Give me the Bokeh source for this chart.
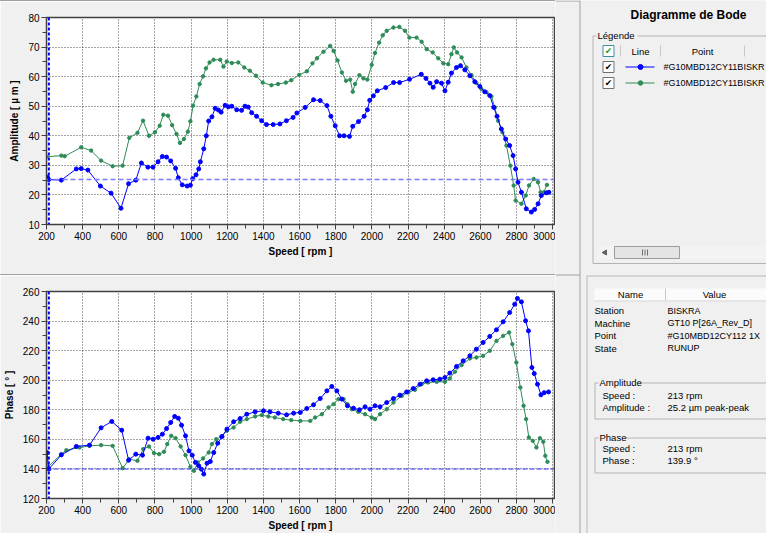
from bokeh.plotting import figure
from bokeh.layouts import row, column
from bokeh.models import Range1d, SingleIntervalTicker, Span, Div
from bokeh.embed import file_html
from bokeh.resources import INLINE
from bokeh.core.properties import value

# ---------------- data ----------------
amp_rpm_blue = [205, 213, 282, 365, 392, 429, 498, 557, 612, 654, 694, 725, 761, 789, 817, 841, 864, 887,
                914, 929, 951, 978, 996, 1009, 1027, 1042, 1051, 1070, 1084, 1097, 1115, 1133, 1151, 1166,
                1188, 1206, 1225, 1252, 1279, 1298, 1316, 1335, 1362, 1390, 1417, 1454, 1491, 1527, 1564,
                1585, 1631, 1677, 1714, 1751, 1773, 1797, 1821, 1846, 1876, 1894, 1926, 1957, 1975, 1988,
                2008, 2030, 2076, 2120, 2153, 2208, 2273, 2299, 2321, 2339, 2358, 2385, 2404, 2422, 2440,
                2468, 2490, 2514, 2542, 2569, 2597, 2624, 2652, 2674, 2692, 2716, 2740, 2762, 2781, 2795,
                2808, 2827, 2854, 2882, 2900, 2919, 2937, 2965, 2979]
amp_blue = [26.0, 25.2, 25.0, 28.8, 28.9, 28.4, 23.0, 20.6, 15.5, 23.8, 25.0, 30.8, 29.4, 29.4, 31.2, 33.0,
            32.8, 31.5, 29.0, 25.8, 23.4, 23.0, 23.3, 25.5, 26.8, 28.8, 31.2, 35.6, 40.0, 45.0, 46.4, 49.3,
            48.7, 48.0, 50.3, 49.8, 50.0, 48.8, 48.6, 50.0, 49.7, 47.8, 46.6, 45.1, 43.8, 43.8, 44.0, 45.1,
            46.2, 47.7, 49.6, 52.2, 51.9, 50.2, 46.6, 43.4, 40.0, 40.0, 39.8, 43.2, 44.8, 46.6, 48.8, 52.0,
            53.5, 55.2, 56.3, 58.0, 58.0, 59.1, 60.8, 59.4, 57.8, 56.4, 58.3, 57.8, 55.2, 58.1, 61.2, 63.1,
            63.7, 62.3, 60.3, 58.3, 56.7, 54.9, 53.6, 49.6, 46.6, 42.3, 38.9, 36.7, 33.3, 28.8, 24.3, 20.9,
            15.3, 14.2, 15.1, 17.0, 19.8, 20.7, 20.9]

amp_rpm_green = [200, 282, 301, 392, 447, 502, 566, 621, 658, 703, 734, 767, 800, 826, 846, 872, 895, 919,
                 938, 960, 982, 996, 1011, 1029, 1047, 1066, 1082, 1102, 1124, 1161, 1179, 1197, 1225, 1261,
                 1294, 1325, 1359, 1396, 1444, 1481, 1524, 1554, 1598, 1640, 1671, 1696, 1732, 1769, 1788,
                 1810, 1834, 1857, 1880, 1894, 1907, 1931, 1953, 1975, 1999, 2017, 2040, 2060, 2082, 2119,
                 2152, 2183, 2207, 2247, 2275, 2303, 2336, 2367, 2395, 2422, 2440, 2453, 2471, 2496, 2523,
                 2551, 2578, 2606, 2634, 2661, 2680, 2698, 2722, 2744, 2766, 2784, 2795, 2827, 2851, 2869,
                 2895, 2919, 2933, 2951, 2968]
amp_green = [32.9, 33.3, 33.1, 36.1, 35.0, 31.6, 29.7, 29.9, 39.3, 41.0, 45.1, 40.0, 41.2, 43.4, 47.1, 46.8,
             43.6, 40.6, 37.6, 38.9, 41.4, 44.9, 50.2, 53.3, 57.5, 60.1, 62.8, 64.8, 65.7, 65.7, 63.4, 65.1,
             64.6, 64.8, 63.1, 62.0, 60.3, 58.0, 57.1, 57.5, 58.0, 58.8, 60.6, 61.8, 64.5, 66.2, 68.4, 70.4,
             68.7, 65.5, 61.4, 58.6, 59.0, 54.9, 57.5, 60.5, 59.4, 59.0, 64.0, 68.0, 71.5, 74.0, 75.5, 76.6,
             76.8, 75.5, 73.2, 73.2, 71.8, 69.3, 68.2, 66.2, 64.5, 64.2, 67.6, 69.9, 68.2, 66.5, 63.1, 60.5,
             57.8, 55.8, 54.7, 53.3, 49.6, 45.1, 41.2, 36.7, 29.9, 23.2, 18.1, 17.0, 19.8, 23.2, 25.4, 24.3,
             20.9, 20.9, 23.4]

ph_rpm_blue = [203, 213, 282, 365, 438, 502, 561, 616, 654, 694, 731, 762, 790, 817, 841, 864, 887, 909,
               929, 947, 969, 988, 1006, 1024, 1042, 1057, 1070, 1088, 1106, 1125, 1147, 1171, 1198, 1235,
               1271, 1308, 1354, 1400, 1436, 1482, 1528, 1567, 1604, 1640, 1677, 1714, 1751, 1778, 1806,
               1834, 1865, 1898, 1931, 1962, 1990, 2017, 2045, 2082, 2119, 2155, 2192, 2229, 2266, 2303,
               2339, 2376, 2404, 2431, 2468, 2505, 2542, 2578, 2615, 2652, 2689, 2726, 2762, 2790, 2805,
               2827, 2850, 2866, 2885, 2898, 2916, 2935, 2953, 2977]
ph_blue = [151.0, 139.9, 149.5, 155.2, 156.1, 167.8, 172.1, 166.2, 145.9, 150.0, 149.3, 160.8, 160.1, 161.3,
           163.5, 167.3, 171.4, 175.5, 174.3, 169.6, 162.4, 152.2, 149.3, 144.4, 142.1, 139.8, 136.5, 143.9,
           145.0, 151.1, 157.4, 161.9, 166.9, 171.9, 174.1, 177.0, 178.6, 179.3, 178.6, 177.7, 176.6, 177.7,
           178.2, 180.9, 183.4, 187.6, 192.8, 195.8, 192.8, 187.2, 182.7, 181.1, 180.0, 182.0, 180.4, 182.7,
           182.0, 184.9, 187.6, 189.9, 192.1, 194.4, 197.3, 199.6, 200.3, 200.7, 201.8, 204.8, 209.3, 213.1,
           216.5, 221.0, 225.5, 229.6, 234.1, 239.5, 245.8, 251.4, 255.3, 253.0, 240.2, 233.4, 208.6, 204.5,
           197.3, 190.1, 191.6, 192.1]

ph_rpm_green = [200, 209, 282, 310, 383, 438, 502, 566, 621, 658, 703, 735, 767, 795, 823, 850, 868, 890,
                914, 942, 969, 996, 1015, 1037, 1066, 1097, 1115, 1139, 1167, 1198, 1235, 1271, 1308, 1354,
                1390, 1427, 1463, 1509, 1554, 1604, 1659, 1686, 1723, 1760, 1788, 1815, 1843, 1865, 1889,
                1925, 1962, 1999, 2017, 2045, 2082, 2119, 2165, 2201, 2238, 2275, 2311, 2358, 2404, 2431,
                2459, 2496, 2542, 2578, 2615, 2652, 2689, 2726, 2759, 2777, 2799, 2821, 2839, 2853, 2868,
                2890, 2910, 2929, 2948, 2959, 2971]
ph_green = [150.4, 141.4, 150.0, 152.7, 154.5, 155.6, 156.1, 155.6, 140.5, 146.6, 145.5, 153.4, 155.2, 150.7,
            150.0, 151.6, 156.8, 162.4, 160.8, 155.2, 149.3, 141.4, 138.7, 144.4, 147.1, 151.1, 156.8, 160.1,
            161.9, 165.8, 168.0, 171.9, 173.7, 175.5, 176.4, 175.5, 174.8, 173.7, 173.0, 172.5, 172.5, 174.8,
            177.0, 181.6, 183.8, 187.2, 187.2, 183.8, 180.4, 178.6, 177.0, 174.8, 173.7, 177.0, 180.4, 184.9,
            189.4, 191.7, 193.5, 197.3, 198.5, 198.9, 198.9, 201.2, 205.7, 210.2, 214.7, 215.4, 216.5, 219.9,
            226.6, 230.0, 232.3, 224.4, 212.0, 195.1, 182.7, 173.7, 161.3, 159.0, 154.5, 160.8, 158.4, 148.9,
            144.8]

cursor_rpm = 213
cursor_amp = 25.2
cursor_phase = 139.9

speed_ticks_interval = 200
x_limits = (200, 3010)
amp_limits = (10, 80)
phase_limits = (120, 260)

series_names = ["#G10MBD12CY11BISKR", "#G10MBD12CY11BISKR"]
info_names = ["Station", "Machine", "Point", "State"]
info_values = ["BISKRA", "GT10 P[26A_Rev_D]", "#G10MBD12CY112 1X", "RUNUP"]

# ---------------- style ----------------
BG = "#f0f0f0"
FONT = "Liberation Sans"
BLUE = "#0000ff"
GREEN = "#2e8b57"
EDGE = "#a0a0a0"
PANEL_FS = "9.5px"


def make_chart(h, b_top, b_bottom, ylim, yint, ylabel, hline, hcolor, hdash, hwidth,
               xb, yb, xg, yg):
    p = figure(width=555, height=h, x_range=Range1d(*x_limits), y_range=Range1d(*ylim),
               output_backend="svg", toolbar_location=None, margin=0,
               min_border_left=44, min_border_right=1, min_border_top=b_top, min_border_bottom=b_bottom)
    p.background_fill_color = "white"
    p.border_fill_color = BG
    p.outline_line_color = "#404040"
    p.outline_line_width = 1.5
    p.xaxis.ticker = SingleIntervalTicker(interval=speed_ticks_interval, num_minor_ticks=2)
    p.yaxis.ticker = SingleIntervalTicker(interval=yint, num_minor_ticks=2)
    for ax in (p.xaxis[0], p.yaxis[0]):
        ax.major_tick_out = 5
        ax.major_tick_in = 0
        ax.minor_tick_out = 4
        ax.minor_tick_in = 0
        ax.axis_line_color = "#404040"
        ax.major_tick_line_color = "#404040"
        ax.minor_tick_line_color = "#404040"
        ax.major_label_text_font = FONT
        ax.major_label_text_font_size = "10px"
        ax.major_label_text_color = "#000000"
        ax.axis_label_text_font = FONT
        ax.axis_label_text_font_size = "10px"
        ax.axis_label_text_font_style = "bold"
        ax.axis_label_text_color = "#000000"
    p.xaxis.axis_label = "Speed [ rpm ]"
    p.yaxis.axis_label = ylabel
    p.xaxis.major_label_standoff = 2
    p.xaxis.axis_label_standoff = 3
    p.yaxis.major_label_standoff = 2
    p.yaxis.axis_label_standoff = 5
    p.grid.grid_line_color = "#000000"
    p.grid.grid_line_alpha = 0.7
    p.grid.grid_line_dash = "1 2"
    p.grid.grid_line_width = 1

    p.line(xg, yg, line_color=GREEN, line_width=1)
    p.scatter(xg, yg, size=3.4, fill_color=GREEN, line_color=GREEN)
    p.line(xb, yb, line_color=BLUE, line_width=1)
    p.scatter(xb, yb, size=4.0, fill_color=BLUE, line_color=BLUE)

    p.add_layout(Span(location=hline, dimension="width", line_color=hcolor,
                      line_dash=hdash, line_width=hwidth))
    p.add_layout(Span(location=cursor_rpm, dimension="height", line_color=BLUE,
                      line_dash="3 2", line_width=2))
    return p


top = make_chart(273, 16, 50, amp_limits, 10, "Amplitude [ \u00b5 m ]",
                 cursor_amp, "#7a7aff", "5 3", 1.5,
                 amp_rpm_blue, amp_blue, amp_rpm_green, amp_green)
bottom = make_chart(258, 16, 35, phase_limits, 20, "Phase [ \u00b0 ]",
                    cursor_phase, "#3a3aff", "5 2", 1,
                    ph_rpm_blue, ph_blue, ph_rpm_green, ph_green)

line1 = Div(width=555, height=1, margin=0, styles={"background-color": EDGE})
line2 = Div(width=555, height=1, margin=0, styles={"background-color": EDGE})
left = column(line1, top, line2, bottom, spacing=0, margin=0)

# ---------------- right panel ----------------
side = figure(width=211, height=533, x_range=Range1d(563, 774), y_range=Range1d(541, 8),
              output_backend="svg", toolbar_location=None, x_axis_type=None, y_axis_type=None,
              min_border=0, margin=0)
side.grid.visible = False
side.background_fill_color = BG
side.border_fill_color = BG
side.outline_line_color = None


def txt(x, y, s, size=PANEL_FS, bold=False, align="left", color="#000000", font=FONT):
    side.text(x=[x], y=[y], text=[s], text_font=value(font), text_font_size=size,
              text_font_style="bold" if bold else "normal", text_align=align,
              text_baseline="middle", text_color=color)


def seg(x0, y0, x1, y1, color=EDGE, width=1):
    side.segment(x0=[x0], y0=[y0], x1=[x1], y1=[y1], line_color=color, line_width=width)


# separators of the left panel
seg(563, 8.5, 587.5, 8.5)
seg(563, 282.5, 587.5, 282.5)
seg(587.5, 8, 587.5, 541)
# lower right panel border
seg(594.5, 283.5, 774, 283.5, "#b8b8b8")
seg(594.5, 283.5, 594.5, 541, "#b8b8b8")

# title
txt(696, 22, "Diagramme de Bode", size="12px", bold=True, align="center")

# Légende group box
gb = "#b4b4b4"
seg(600.5, 43.5, 604, 43.5, gb)
seg(645, 43.5, 774, 43.5, gb)
seg(600.5, 43.5, 600.5, 271, gb)
seg(600.5, 271, 774, 271, gb)
txt(605, 43, "Légende")

# legend header
for xs in (628, 668, 752):
    seg(xs, 53, xs, 64, "#c8c8c8")
txt(648, 58.5, "Line", align="center")
txt(710, 58.5, "Point", align="center")
side.rect(x=[616], y=[58.5], width=11, height=11, fill_color="white", line_color="#3a8fa8")
txt(616, 58.5, "\u2714", size="9px", align="center", color="#1ea01e", font="DejaVu Sans")

# legend rows
row_y = [74.5, 90.5]
row_colors = [BLUE, GREEN]
row_sizes = [5, 4.5]
for yy, col, sz, nm in zip(row_y, row_colors, row_sizes, series_names):
    side.rect(x=[616], y=[yy], width=11, height=11, fill_color="white", line_color="#707070")
    txt(616, yy, "\u2714", size="9px", align="center", font="DejaVu Sans")
    seg(633, yy, 662, yy, col, 1)
    side.scatter(x=[648], y=[yy], size=sz, fill_color=col, line_color=col)
    txt(671, yy, nm, size="9px")

# horizontal scrollbar
side.rect(x=[689.5], y=[260], width=169, height=13, fill_color="#f3f3f3", line_color=None)
side.scatter(x=[612.5], y=[260], marker="triangle", size=5, angle=1.5708,
             fill_color="#606060", line_color="#606060")
side.rect(x=[654.5], y=[260], width=65, height=12, fill_color="#e4e4e4", line_color="#9c9c9c")
for gx in (650, 652.5, 655):
    seg(gx, 257, gx, 263, "#707070")

# info table header
side.rect(x=[688], y=[302], width=172, height=12, fill_color="#fbfbfb", line_color=None)
seg(602, 308.5, 774, 308.5, "#d8d8d8")
seg(673, 296, 673, 308, "#c8c8c8")
txt(638, 302, "Name", align="center")
txt(722, 302, "Value", align="center")

info_y = [318, 330.5, 343, 355.5]
for yy, nm, vl in zip(info_y, info_names, info_values):
    txt(602, yy, nm)
    txt(675, yy, vl, size="9px")

# Amplitude group box
seg(602.5, 390.5, 606, 390.5, gb)
seg(645, 390.5, 774, 390.5, gb)
seg(602.5, 390.5, 602.5, 426.5, gb)
seg(602.5, 426.5, 774, 426.5, gb)
txt(607, 390, "Amplitude")
txt(610, 403, "Speed :")
txt(610, 415, "Amplitude :")
txt(675, 403, f"{cursor_rpm} rpm")
txt(675, 415, f"{cursor_amp} \u00b5m peak-peak")

# Phase group box
seg(602.5, 445.5, 606, 445.5, gb)
seg(631, 445.5, 774, 445.5, gb)
seg(602.5, 445.5, 602.5, 480.5, gb)
seg(602.5, 480.5, 774, 480.5, gb)
txt(607, 445, "Phase")
txt(610, 456, "Speed :")
txt(610, 468, "Phase :")
txt(675, 456, f"{cursor_rpm} rpm")
txt(675, 468, f"{cursor_phase} \u00b0")

layout = row(left, side, spacing=0, margin=0)

open("out.html", "w").write(file_html(layout, INLINE))
